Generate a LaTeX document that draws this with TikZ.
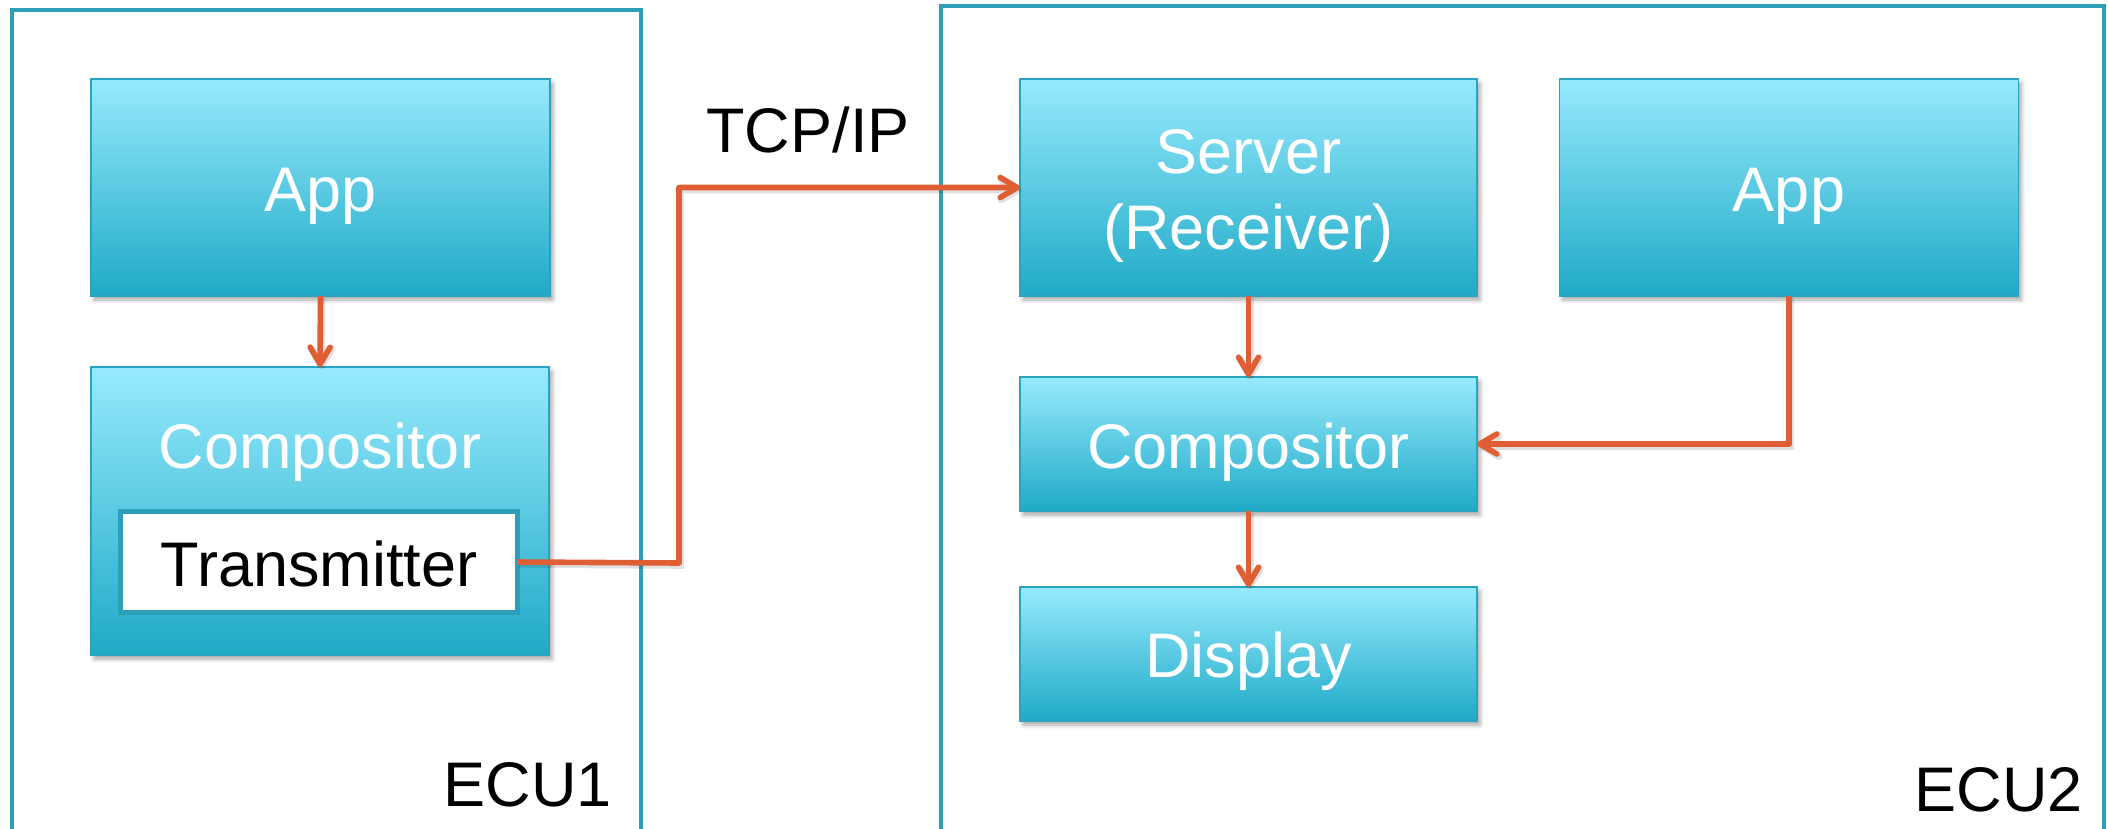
\documentclass[tikz,border=0pt]{standalone}
\usepackage{fontspec}
\setmainfont{Liberation Sans}
\usetikzlibrary{arrows.meta,shadows.blur}
\definecolor{boxtop}{RGB}{151,234,253}
\definecolor{boxbot}{RGB}{31,170,199}
\definecolor{boxline}{RGB}{42,164,190}
\definecolor{eculine}{RGB}{46,160,182}
\definecolor{txline}{RGB}{44,160,186}
\definecolor{conn}{RGB}{224,94,52}
\tikzset{
  ecubox/.style={draw=eculine, line width=2.4pt},
  bluebox/.style={draw=boxline, line width=0.9pt, top color=boxtop, bottom color=boxbot,
    inner sep=0pt, outer sep=0pt,
    blur shadow={shadow xshift=1.5pt, shadow yshift=-2pt, shadow blur radius=2pt, shadow opacity=35}},
  txbox/.style={draw=txline, line width=2.6pt, fill=white, inner sep=0pt, outer sep=0pt},
  wtext/.style={font=\fontsize{31.5}{38}\selectfont, text=white, inner sep=0pt, anchor=base},
  btext/.style={font=\fontsize{31.5}{38}\selectfont, text=black, inner sep=0pt, anchor=base},
  connector/.style={draw=conn, line width=2.8pt, line join=round,
    -{Straight Barb[length=8.5pt, width=10pt, round]},
    preaction={draw=black, draw opacity=0.12, line width=3.4pt, transform canvas={xshift=0.8pt, yshift=-1.2pt}}},
}
\begin{document}
\begin{tikzpicture}[x=0.5pt,y=-0.5pt]
\useasboundingbox (0,0) rectangle (2108,829);
\clip (0,0) rectangle (2108,829);
% ECU frames
\draw[ecubox] (12,10) rectangle (641,831);
\draw[ecubox] (941,6) rectangle (2104,831);
% ECU1
\node[bluebox, minimum width=229.5pt, minimum height=108.5pt] (app1) at (320.5,187.5) {};
\node[wtext] (app1t) at (320.5,211.5) {App};
\node[bluebox, minimum width=229pt, minimum height=144pt] (comp1) at (320,511) {};
\node[wtext] (comp1t) at (320,468) {Compositor};
\node[txbox, minimum width=198.5pt, minimum height=50.5pt] (tx) at (319,562) {};
\node[btext] (txt) at (319,586) {Transmitter};
\node[btext, anchor=base east] (ecu1) at (612,806) {ECU1};
% ECU2
\node[bluebox, minimum width=228.5pt, minimum height=108.5pt] (server) at (1248.5,187.5) {};
\node[wtext] (servert1) at (1248.5,173) {Server};
\node[wtext] (servert2) at (1248.5,249) {(Receiver)};
\node[bluebox, minimum width=229.5pt, minimum height=108.5pt] (app2) at (1789,187.5) {};
\node[wtext] (app2t) at (1789,211.5) {App};
\node[bluebox, minimum width=228.5pt, minimum height=67pt] (comp2) at (1248.5,444) {};
\node[wtext] (comp2t) at (1248.5,468) {Compositor};
\node[bluebox, minimum width=228.5pt, minimum height=67pt] (disp) at (1248.5,654) {};
\node[wtext] (dispt) at (1248.5,677) {Display};
\node[btext, anchor=base east] (ecu2) at (2083,811) {ECU2};
% TCP/IP label
\node[btext] (tcp) at (808,153) {TCP/IP};
% connectors
\draw[connector] (app1.south) -- (comp1.north);
\coordinate (bend) at (679,563);
\draw[connector] (tx.east) -- (bend) |- (server.west);
\draw[connector] (server.south) -- (comp2.north);
\draw[connector] (comp2.south) -- (disp.north);
\draw[connector] (app2.south) |- (comp2.east);
\end{tikzpicture}
\end{document}
